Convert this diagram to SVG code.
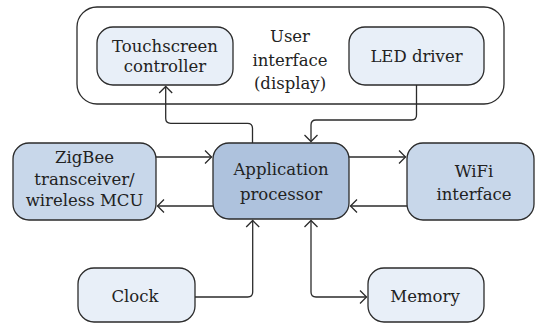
<svg xmlns="http://www.w3.org/2000/svg" width="535" height="323" viewBox="0 0 535 323">
<defs>
<marker id="arr" viewBox="-8 -8 10 16" refX="0" refY="0" markerWidth="10" markerHeight="16" markerUnits="userSpaceOnUse" orient="auto-start-reverse">
<path d="M-6.5,-6.5 L0,0 L-6.5,6.5" fill="none" stroke="#2b2b2b" stroke-width="1.3"/>
</marker>
<style>
.box{stroke:#2b2b2b;stroke-width:1.3}
.light{fill:#e8eff8}
.mid{fill:#c8d7ea}
.dark{fill:#aec2dd}
.conn path{fill:none;stroke:#2b2b2b;stroke-width:1.3}
</style>
</defs>
<rect width="535" height="323" fill="#ffffff"/>
<g font-family="DejaVu Serif, serif" font-size="16.5" fill="#222" text-anchor="middle">
<g id="user-interface">
<rect x="77" y="7" width="427" height="97" rx="20" fill="#ffffff" class="box"/>
<text x="290" y="42">User</text>
<text x="290" y="66">interface</text>
<text x="290" y="89">(display)</text>
</g>
<g id="touchscreen">
<rect x="97" y="27" width="136" height="58" rx="16" class="box light"/>
<text x="165" y="52">Touchscreen</text>
<text x="165" y="72">controller</text>
</g>
<g id="led">
<rect x="349" y="27" width="135" height="58" rx="16" class="box light"/>
<text x="416.5" y="62">LED driver</text>
</g>
<g id="zigbee">
<rect x="13" y="143" width="143" height="77" rx="16" class="box mid"/>
<text x="84.5" y="163">ZigBee</text>
<text x="84.5" y="185">transceiver/</text>
<text x="84.5" y="206">wireless MCU</text>
</g>
<g id="processor">
<rect x="213" y="143" width="136" height="76" rx="16" class="box dark"/>
<text x="281" y="175">Application</text>
<text x="281" y="200">processor</text>
</g>
<g id="wifi">
<rect x="407" y="143" width="127" height="77" rx="16" class="box mid"/>
<text x="474" y="177">WiFi</text>
<text x="474" y="200">interface</text>
</g>
<g id="clock">
<rect x="78" y="268" width="117" height="54" rx="16" class="box light"/>
<text x="135" y="302">Clock</text>
</g>
<g id="memory">
<rect x="368" y="268" width="116" height="54" rx="16" class="box light"/>
<text x="425" y="302">Memory</text>
</g>
</g>
<g id="connectors" class="conn">
<path d="M252.5,143 V128.3 Q252.5,123.3 247.5,123.3 H170.7 Q165.7,123.3 165.7,118.3 V86.5" marker-end="url(#arr)"/>
<path d="M416.5,85 V115 Q416.5,120 411.5,120 H316 Q311,120 311,125 V141.5" marker-end="url(#arr)"/>
<path d="M156,157 H211.5" marker-end="url(#arr)"/>
<path d="M213,206 H157.5" marker-end="url(#arr)"/>
<path d="M349,157 H405.5" marker-end="url(#arr)"/>
<path d="M407,206 H350.5" marker-end="url(#arr)"/>
<path d="M195,297 H247.7 Q252.7,297 252.7,292 V220.5" marker-end="url(#arr)"/>
<path d="M311,220.5 V292 Q311,297 316,297 H366.5" marker-start="url(#arr)" marker-end="url(#arr)"/>
</g>
</svg>
